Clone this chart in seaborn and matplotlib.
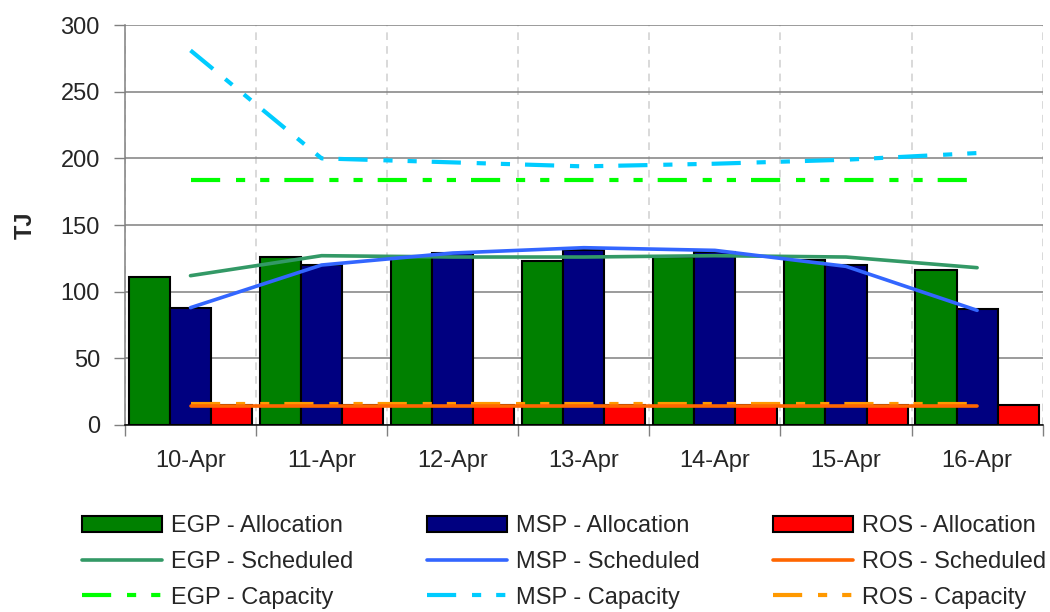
import numpy as np
import pandas as pd
import matplotlib
matplotlib.use("Agg")
import matplotlib.pyplot as plt
from matplotlib.patches import Patch
from matplotlib.lines import Line2D
from matplotlib.ticker import FixedLocator
import seaborn as sns

FONT_SIZE = 17

## data (TJ per day)
dates = ["10-Apr", "11-Apr", "12-Apr", "13-Apr", "14-Apr", "15-Apr", "16-Apr"]
egp_alloc = [111, 126, 127, 123, 126, 124, 116]
msp_alloc = [88, 120, 129, 131, 130, 120, 87]
ros_alloc = [15, 15, 15, 15, 15, 15, 15]
egp_sched = [112, 127, 126, 126, 127, 126, 118]
msp_sched = [88, 120, 129, 133, 131, 119, 86]
ros_sched = [14.5, 14.5, 14.5, 14.5, 14.5, 14.5, 14.5]
egp_cap = [184, 184, 184, 184, 184, 184, 184]
msp_cap = [281, 200, 197, 194, 196, 199, 204]
ros_cap = [16, 16, 16, 16, 16, 16, 16]

alloc_names = ["EGP - Allocation", "MSP - Allocation", "ROS - Allocation"]
alloc_colors = ["#008000", "#000080", "#FF0000"]
sched_colors = ["#339966", "#3366FF", "#FF6600"]
cap_colors = ["#00FF00", "#00CCFF", "#FF9900"]

CAP_DASH = (0, (7, 3.8, 2.2, 3.6, 2.2, 3.6))

sns.set_style("white")
plt.rcParams["font.family"] = ["Liberation Sans", "DejaVu Sans"]
plt.rcParams["font.size"] = FONT_SIZE

df = pd.DataFrame(
    {
        "date": dates * 3,
        "value": egp_alloc + msp_alloc + ros_alloc,
        "series": np.repeat(alloc_names, len(dates)),
    }
)

fig, ax = plt.subplots(figsize=(10.5, 6.12), dpi=100)
fig.subplots_adjust(left=0.119, right=0.993, top=0.959, bottom=0.3056)
ax.set_axisbelow(True)

sns.barplot(
    data=df,
    x="date",
    y="value",
    hue="series",
    order=dates,
    hue_order=alloc_names,
    palette=alloc_colors,
    width=0.94,
    gap=0,
    edgecolor="black",
    linewidth=1.5,
    saturation=1,
    legend=False,
    ax=ax,
)

pos = np.arange(len(dates))
# capacity lines first, scheduled lines drawn on top
for vals, col in zip([egp_cap, msp_cap, ros_cap], cap_colors):
    sns.lineplot(
        x=pos, y=vals, color=col, lw=3, linestyle=CAP_DASH,
        solid_capstyle="butt", dash_capstyle="butt", errorbar=None, ax=ax, zorder=4,
    )
for vals, col in zip([egp_sched, msp_sched, ros_sched], sched_colors):
    sns.lineplot(
        x=pos, y=vals, color=col, lw=2.6, errorbar=None, ax=ax, zorder=5,
    )

ax.set_xlim(-0.5, len(dates) - 0.5)
ax.set_ylim(0, 300)
ax.set_yticks(np.arange(0, 301, 50))
ax.set_xticks(pos)
ax.set_xticklabels(dates)
ax.xaxis.set_minor_locator(FixedLocator(np.arange(-0.5, len(dates), 1.0)))

ax.set_xlabel("")
ax.set_ylabel("")
fig.text(0.024, 0.632, "TJ", rotation=90, ha="center", va="center",
         fontsize=FONT_SIZE, fontweight="bold")

ax.grid(axis="y", which="major", color="#808080", lw=1.1, linestyle="-")
ax.grid(axis="x", which="minor", color="#D0D0D0", lw=1.1, linestyle=(0, (5, 4)))
ax.grid(axis="x", which="major", visible=False)

ax.tick_params(axis="y", which="major", direction="out", length=8, width=1,
               color="#808080", pad=10, labelsize=FONT_SIZE, left=True)
ax.tick_params(axis="x", which="major", length=0, pad=18, labelsize=FONT_SIZE)
ax.tick_params(axis="x", which="minor", direction="out", length=8, width=1,
               color="#808080", bottom=True)

for s in ["top", "right"]:
    ax.spines[s].set_visible(False)
ax.spines["left"].set_color("#808080")
ax.spines["bottom"].set_color("black")
ax.spines["left"].set_linewidth(1.1)
ax.spines["bottom"].set_linewidth(1.1)

handles = []
labels = []
for i, name in enumerate(["EGP", "MSP", "ROS"]):
    handles.append(Patch(facecolor=alloc_colors[i], edgecolor="black", lw=1.5))
    labels.append(f"{name} - Allocation")
    handles.append(Line2D([], [], color=sched_colors[i], lw=2.6))
    labels.append(f"{name} - Scheduled")
    handles.append(Line2D([], [], color=cap_colors[i], lw=3, linestyle=CAP_DASH,
                          dash_capstyle="butt"))
    labels.append(f"{name} - Capacity")

fig.legend(
    handles, labels, ncol=3, loc="upper left", bbox_to_anchor=(0.078, 0.158),
    frameon=False, fontsize=FONT_SIZE, handlelength=3.4, handletextpad=0.38,
    columnspacing=3.1, labelspacing=0.58, borderpad=0, borderaxespad=0,
)

fig.savefig("out.png", dpi=100)
